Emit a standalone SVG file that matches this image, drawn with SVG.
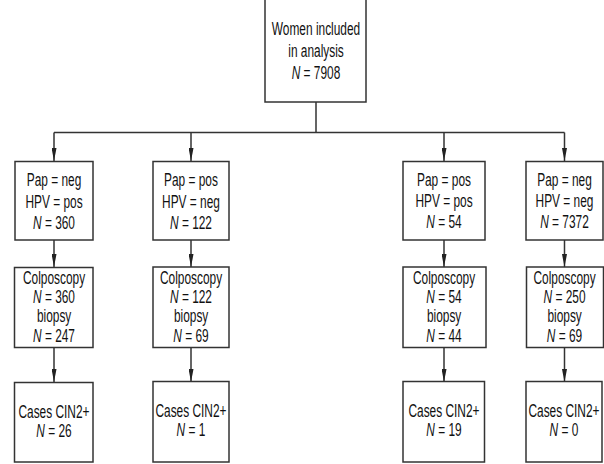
<svg xmlns="http://www.w3.org/2000/svg" width="604" height="464" viewBox="0 0 604 464">
<style>
.box{fill:#fff;stroke:#333;stroke-width:1.5}
.ln{fill:none;stroke:#333;stroke-width:1.5}
text{font-family:"Liberation Sans",Arial,sans-serif;font-size:17.5px;fill:#111;text-anchor:middle;transform-box:fill-box;transform-origin:center;transform:scaleX(0.68)}
.i{font-style:italic}
</style>
<defs>
<marker id="ah" viewBox="0 0 13 5" refX="13" refY="2.5" markerWidth="13" markerHeight="5" markerUnits="userSpaceOnUse" orient="auto">
<path d="M0,0 L13,2.5 L0,5 Z" fill="#222"/>
</marker>
</defs>
<rect width="604" height="464" fill="#fff"/>
<g id="connectors">
<path class="ln" d="M316,102 V132.5 M54,132.5 H564.5"/>
<path class="ln" d="M54,132.5 V161" marker-end="url(#ah)"/>
<path class="ln" d="M191,132.5 V161" marker-end="url(#ah)"/>
<path class="ln" d="M444,132.5 V161" marker-end="url(#ah)"/>
<path class="ln" d="M564.5,132.5 V161" marker-end="url(#ah)"/>
<path class="ln" d="M54,240 V267" marker-end="url(#ah)"/>
<path class="ln" d="M191,240 V267" marker-end="url(#ah)"/>
<path class="ln" d="M444,240 V267" marker-end="url(#ah)"/>
<path class="ln" d="M564.5,240 V267" marker-end="url(#ah)"/>
<path class="ln" d="M54,347.5 V382" marker-end="url(#ah)"/>
<path class="ln" d="M191,347.5 V382" marker-end="url(#ah)"/>
<path class="ln" d="M444,347.5 V382" marker-end="url(#ah)"/>
<path class="ln" d="M564.5,347.5 V382" marker-end="url(#ah)"/>
</g>
<g id="n-top">
<rect class="box" x="265" y="-1" width="101" height="103"/>
<text x="316" y="35.5">Women included</text>
<text x="316" y="57">in analysis</text>
<text x="316" y="79"><tspan class="i">N</tspan> = 7908</text>
</g>
<g id="n-a1">
<rect class="box" x="15" y="161.5" width="78" height="78.5"/>
<text x="54" y="186.5">Pap = neg</text>
<text x="54" y="208">HPV = pos</text>
<text x="54" y="229"><tspan class="i">N</tspan> = 360</text>
</g>
<g id="n-b1">
<rect class="box" x="153" y="161.5" width="76" height="78.5"/>
<text x="191" y="186.5">Pap = pos</text>
<text x="191" y="208">HPV = neg</text>
<text x="191" y="229"><tspan class="i">N</tspan> = 122</text>
</g>
<g id="n-c1">
<rect class="box" x="403" y="161.5" width="82" height="78.5"/>
<text x="444" y="186">Pap = pos</text>
<text x="444" y="207.5">HPV = pos</text>
<text x="444" y="228.5"><tspan class="i">N</tspan> = 54</text>
</g>
<g id="n-d1">
<rect class="box" x="526" y="161.5" width="77" height="78.5"/>
<text x="564.5" y="186">Pap = neg</text>
<text x="564.5" y="207.5">HPV = neg</text>
<text x="564.5" y="228.5"><tspan class="i">N</tspan> = 7372</text>
</g>
<g id="n-a2">
<rect class="box" x="14.5" y="267.5" width="78.5" height="80"/>
<text x="54" y="284">Colposcopy</text>
<text x="54" y="303.5"><tspan class="i">N</tspan> = 360</text>
<text x="54" y="322">biopsy</text>
<text x="54" y="342.5"><tspan class="i">N</tspan> = 247</text>
</g>
<g id="n-b2">
<rect class="box" x="153" y="267" width="76" height="80.5"/>
<text x="191" y="284">Colposcopy</text>
<text x="191" y="303.5"><tspan class="i">N</tspan> = 122</text>
<text x="191" y="322">biopsy</text>
<text x="191" y="342.5"><tspan class="i">N</tspan> = 69</text>
</g>
<g id="n-c2">
<rect class="box" x="403" y="267" width="83" height="80.5"/>
<text x="444" y="284">Colposcopy</text>
<text x="444" y="303.5"><tspan class="i">N</tspan> = 54</text>
<text x="444" y="322">biopsy</text>
<text x="444" y="342.5"><tspan class="i">N</tspan> = 44</text>
</g>
<g id="n-d2">
<rect class="box" x="526.5" y="267" width="77" height="80.5"/>
<text x="564.5" y="284">Colposcopy</text>
<text x="564.5" y="303.5"><tspan class="i">N</tspan> = 250</text>
<text x="564.5" y="322">biopsy</text>
<text x="564.5" y="342.5"><tspan class="i">N</tspan> = 69</text>
</g>
<g id="n-a3">
<rect class="box" x="14.5" y="382.5" width="78.5" height="79.5"/>
<text x="54" y="418">Cases CIN2+</text>
<text x="54" y="437"><tspan class="i">N</tspan> = 26</text>
</g>
<g id="n-b3">
<rect class="box" x="153" y="381.5" width="76" height="80.5"/>
<text x="191" y="417">Cases CIN2+</text>
<text x="191" y="436.5"><tspan class="i">N</tspan> = 1</text>
</g>
<g id="n-c3">
<rect class="box" x="403" y="381.5" width="81.5" height="80.5"/>
<text x="444" y="417">Cases CIN2+</text>
<text x="444" y="436.5"><tspan class="i">N</tspan> = 19</text>
</g>
<g id="n-d3">
<rect class="box" x="526" y="381.5" width="76" height="80.5"/>
<text x="564" y="417">Cases CIN2+</text>
<text x="564" y="436.5"><tspan class="i">N</tspan> = 0</text>
</g>
</svg>
